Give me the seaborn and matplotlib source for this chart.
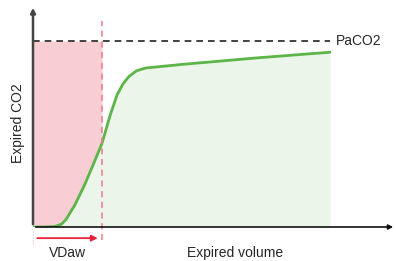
import seaborn as sns
import matplotlib.pyplot as plt
import pandas as pd

sns.set_style("white")
plt.rcParams['font.family'] = ['Liberation Sans', 'DejaVu Sans']

# capnogram (arbitrary units)
volume = [0.0, 0.4, 0.73, 0.95, 1.1, 1.4, 1.73, 2.07, 2.3, 2.57, 2.8, 3.0, 3.2, 3.45, 3.75, 5.0, 7.5, 9.9]
co2 = [0.0, 0.0, 0.003, 0.015, 0.04, 0.12, 0.23, 0.36, 0.45, 0.6, 0.71, 0.77, 0.81, 0.84, 0.855, 0.875, 0.91, 0.94]
paco2 = 1.0
vdaw = 2.3
vmax = 9.9

df = pd.DataFrame({"volume": volume, "co2": co2})

fig = plt.figure(figsize=(3.96, 2.61), dpi=100)
ax = fig.add_axes([33 / 396, 34 / 261, 363 / 396, 222 / 261])
ax.set_xlim(0, 12.1)
ax.set_ylim(0, 1.194)

# shaded areas
dead = df[df.volume <= vdaw]
ax.fill_between(df.volume, 0, df.co2, color="#ebf5ea", lw=0)
ax.fill_between(dead.volume, dead.co2, paco2, color="#f8cdd4", lw=0)

sns.lineplot(data=df, x="volume", y="co2", sort=False, color="#5cb548", lw=2, ax=ax)
ax.set_xlabel("")
ax.set_ylabel("")

# PaCO2 level
ax.plot([0, vmax], [paco2, paco2], color="#222222", lw=1.2, ls=(0, (4, 3)))
ax.text(vmax + 0.2, paco2, "PaCO2", va="center", ha="left", fontsize=10)

# anatomical dead space boundary
ax.plot([vdaw, vdaw], [-0.07, 1.11], color="#f07a88", lw=1.1, ls=(0, (4, 3)), clip_on=False)
ax.annotate("", xy=(vdaw - 0.05, -0.06), xytext=(0.05, -0.06), annotation_clip=False,
            arrowprops=dict(arrowstyle="-|>", color="#e8203a", lw=1.3, mutation_scale=9))
ax.plot([0, 0], [-0.02, -0.1], color="#f3b0b8", lw=0.8, ls=":", clip_on=False)
ax.text(vdaw / 2, -0.14, "VDaw", ha="center", va="center", fontsize=10)

# axes with arrow heads
for s in ax.spines.values():
    s.set_visible(False)
ax.set_xticks([])
ax.set_yticks([])
ax.annotate("", xy=(1.0, 0), xytext=(0, 0), xycoords="axes fraction", annotation_clip=False,
            arrowprops=dict(arrowstyle="-|>", color="#111111", lw=1.2, mutation_scale=7))
ax.annotate("", xy=(0, 1.0), xytext=(0, 0), xycoords="axes fraction", annotation_clip=False,
            arrowprops=dict(arrowstyle="-|>", color="#444444", lw=1.8, mutation_scale=7))

ax.text(202 / 363, -26 / 222, "Expired volume", transform=ax.transAxes,
        ha="center", va="center", fontsize=10)
ax.text(-15 / 363, 104 / 222, "Expired CO2", transform=ax.transAxes,
        ha="center", va="center", rotation=90, fontsize=10)

fig.savefig("out.png", dpi=100)
